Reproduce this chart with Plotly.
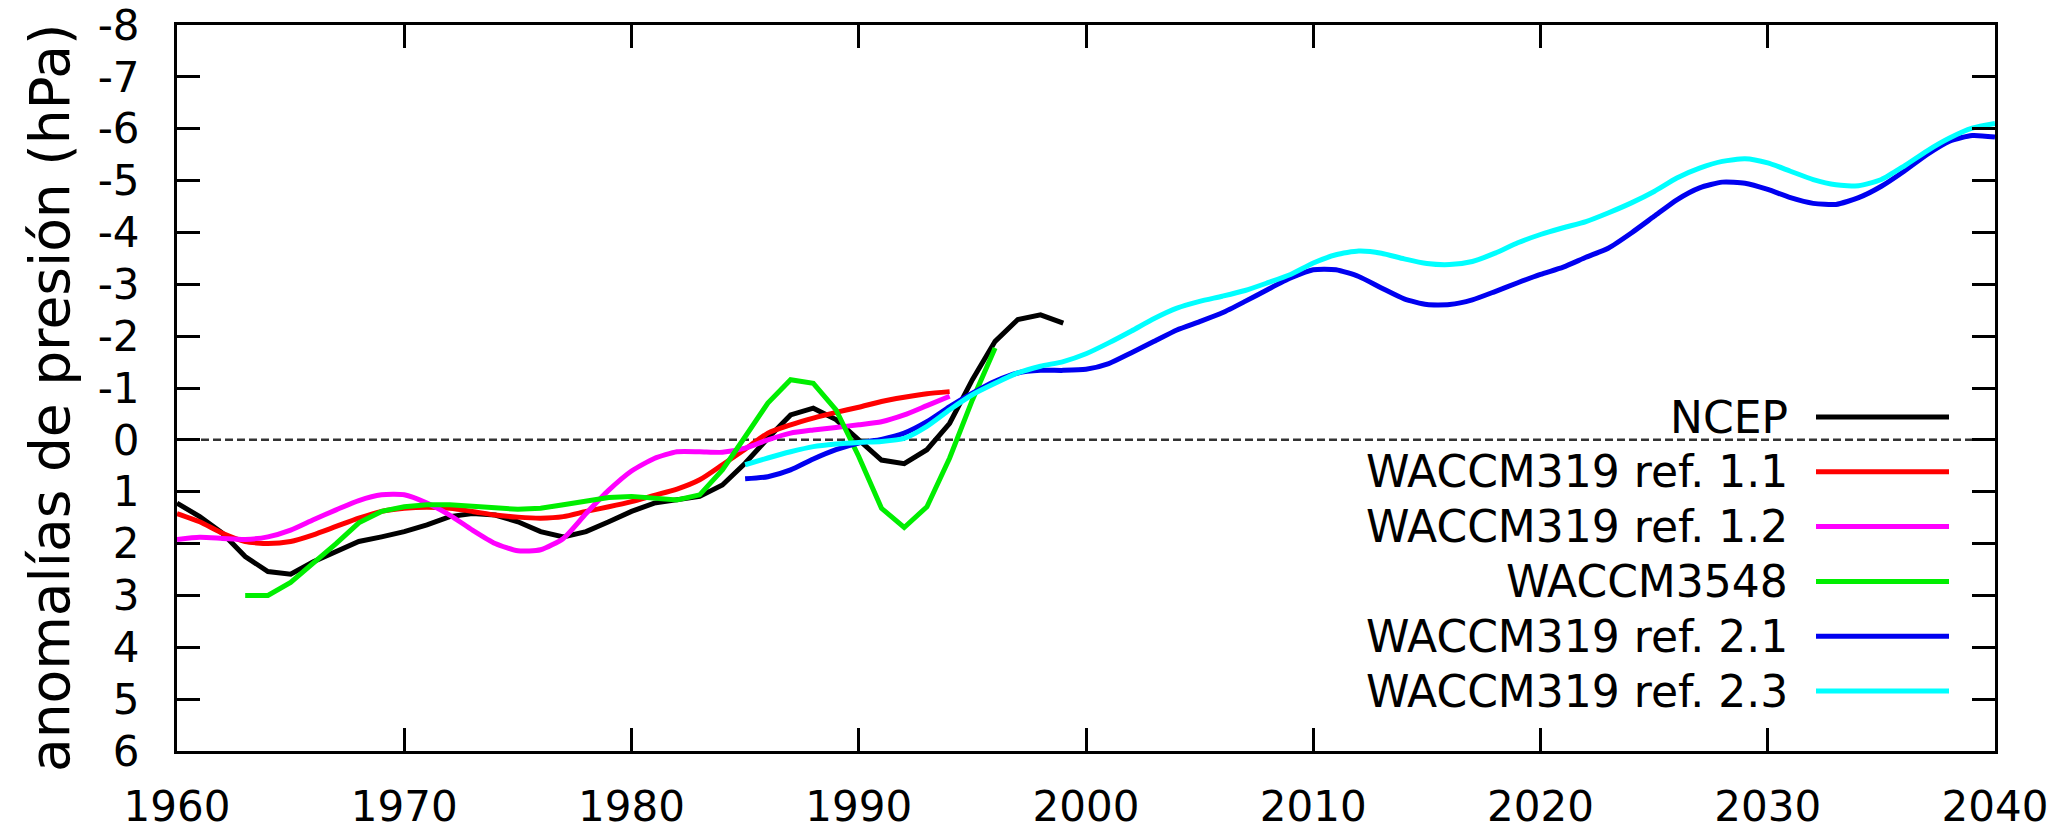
import plotly.graph_objects as go

# ---------------- data ----------------
years_ncep = list(range(1960, 2000))
ncep = [1.22, 1.48, 1.8, 2.25, 2.54, 2.59, 2.35, 2.15, 1.96, 1.87,
        1.77, 1.64, 1.48, 1.42, 1.45, 1.58, 1.77, 1.87, 1.77, 1.58,
        1.38, 1.22, 1.16, 1.09, 0.87, 0.45, -0.03, -0.48, -0.61, -0.39,
        0.0, 0.39, 0.46, 0.19, -0.32, -1.16, -1.9, -2.32, -2.41, -2.25]

years_r11 = list(range(1960, 1995))
ref11 = [1.42, 1.58, 1.8, 1.96, 2.0, 1.96, 1.83, 1.67, 1.51, 1.38,
         1.32, 1.30, 1.32, 1.38, 1.45, 1.49, 1.51, 1.48, 1.38, 1.29,
         1.19, 1.07, 0.95, 0.77, 0.48, 0.18, -0.13, -0.29, -0.42, -0.53,
         -0.63, -0.74, -0.82, -0.89, -0.93]

years_r12 = list(range(1960, 1995))
ref12 = [1.92, 1.88, 1.9, 1.92, 1.87, 1.74, 1.54, 1.35, 1.17, 1.06,
         1.06, 1.22, 1.45, 1.74, 2.0, 2.14, 2.12, 1.9, 1.42, 0.97,
         0.6, 0.36, 0.23, 0.23, 0.24, 0.16, 0.0, -0.13, -0.19, -0.24,
         -0.29, -0.35, -0.48, -0.66, -0.84]

years_3548 = list(range(1963, 1997))
w3548 = [3.0, 3.0, 2.75, 2.38, 2.0, 1.6, 1.38, 1.29, 1.25, 1.25,
         1.27, 1.31, 1.34, 1.32, 1.25, 1.17, 1.11, 1.09, 1.13, 1.16,
         1.06, 0.58, -0.06, -0.71, -1.16, -1.09, -0.58, 0.32, 1.32, 1.69,
         1.29, 0.35, -0.77, -1.77]

years_r2 = list(range(1985, 2041))
ref21 = [0.75, 0.71, 0.58, 0.37, 0.19, 0.06, -0.01, -0.13, -0.35, -0.64,
         -0.9, -1.13, -1.29, -1.34, -1.34, -1.36, -1.47, -1.68, -1.9, -2.12,
         -2.28, -2.45, -2.67, -2.9, -3.12, -3.28, -3.28, -3.15, -2.93, -2.72,
         -2.61, -2.61, -2.7, -2.86, -3.03, -3.19, -3.33, -3.52, -3.7, -3.99,
         -4.31, -4.63, -4.86, -4.97, -4.95, -4.83, -4.67, -4.56, -4.54, -4.67,
         -4.89, -5.18, -5.5, -5.76, -5.87, -5.84]
ref23 = [0.48, 0.35, 0.23, 0.13, 0.08, 0.05, 0.03, -0.03, -0.26, -0.58,
         -0.87, -1.09, -1.29, -1.42, -1.51, -1.66, -1.87, -2.1, -2.34, -2.54,
         -2.67, -2.77, -2.88, -3.03, -3.19, -3.41, -3.57, -3.64, -3.6, -3.49,
         -3.4, -3.38, -3.44, -3.6, -3.8, -3.96, -4.09, -4.21, -4.38, -4.57,
         -4.79, -5.05, -5.24, -5.37, -5.42, -5.34, -5.18, -5.02, -4.92, -4.9,
         -5.02, -5.28, -5.57, -5.82, -6.01, -6.1]

series_names = ["NCEP", "WACCM319 ref. 1.1", "WACCM319 ref. 1.2",
                "WACCM3548", "WACCM319 ref. 2.1", "WACCM319 ref. 2.3"]
series_colors = ["#000000", "#ff0000", "#ff00ff", "#00ee00", "#0000f0", "#00ffff"]

x_ticks = list(range(1960, 2041, 10))
x_tick_labels = [str(v) for v in x_ticks]
y_ticks = list(range(-8, 7))
y_tick_labels = [str(v) for v in y_ticks]

y_title = "anomalías de presión (hPa)"

# ---------------- figure ----------------
W, H = 2064, 830
L, R, T, B = 177, 69, 25, 79
PW, PH = W - L - R, H - T - B
FONT = "DejaVu Sans"
LW = 5

def px_x(x):
    return (x - L) / PW

def px_y(y):
    return (H - B - y) / PH

fig = go.Figure()

data = [
    (years_ncep, ncep, "linear"),
    (years_r11, ref11, "spline"),
    (years_r12, ref12, "spline"),
    (years_3548, w3548, "linear"),
    (years_r2, ref21, "spline"),
    (years_r2, ref23, "spline"),
]
for (xs, ys, shape), name, col in zip(data, series_names, series_colors):
    fig.add_trace(go.Scatter(
        x=xs, y=ys, mode="lines", name=name,
        line=dict(color=col, width=LW, shape=shape, smoothing=0.6),
        showlegend=False,
    ))

# zero reference line
fig.add_shape(type="line", xref="paper", yref="y", x0=0, x1=1, y0=0, y1=0,
              line=dict(color="#333333", width=2.5, dash="8px,4px"), layer="below")

# manual legend (text right-aligned, sample line on the right)
leg_text_right = 1790
leg_line_x0, leg_line_x1 = 1816, 1949
leg_y0, leg_dy = 417, 54.8
for i, (name, col) in enumerate(zip(series_names, series_colors)):
    yy = leg_y0 + i * leg_dy
    fig.add_annotation(
        x=px_x(leg_text_right), y=px_y(yy), xref="paper", yref="paper",
        text=name, showarrow=False, xanchor="right", yanchor="middle",
        font=dict(family=FONT, size=44, color="#000000"),
    )
    fig.add_shape(type="line", xref="paper", yref="paper",
                  x0=px_x(leg_line_x0), x1=px_x(leg_line_x1),
                  y0=px_y(yy), y1=px_y(yy),
                  line=dict(color=col, width=LW))

# y-axis title
fig.add_annotation(
    x=px_x(50), y=px_y(398), xref="paper", yref="paper",
    text=y_title, textangle=-90, showarrow=False,
    xanchor="center", yanchor="middle",
    font=dict(family=FONT, size=55, color="#000000"),
)

axis_common = dict(
    showline=True, linecolor="#000000", linewidth=3, mirror="ticks",
    ticks="inside", ticklen=23, tickwidth=3, tickcolor="#000000",
    showgrid=False, zeroline=False,
    tickfont=dict(family=FONT, size=42, color="#000000"),
)

fig.update_layout(
    width=W, height=H,
    margin=dict(l=L, r=R, t=T, b=B, pad=0, autoexpand=False),
    paper_bgcolor="white", plot_bgcolor="white",
    xaxis=dict(range=[1960, 2040], tickmode="array", tickvals=x_ticks,
               ticktext=x_tick_labels, ticklabelstandoff=17, **axis_common),
    yaxis=dict(range=[6, -8], tickmode="array", tickvals=y_ticks,
               ticktext=y_tick_labels, ticklabelstandoff=26, **axis_common),
    showlegend=False,
)

fig.write_html("out.html")
